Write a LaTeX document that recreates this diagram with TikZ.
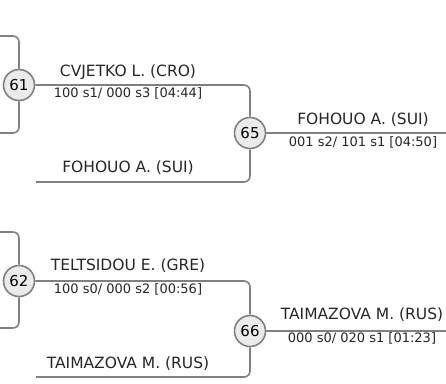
\documentclass[tikz,border=0pt]{standalone}
\usepackage{fontspec}
\setmainfont{DejaVu Sans}
\usetikzlibrary{positioning}

\begin{document}
\begin{tikzpicture}[x=1pt,y=-1pt,
  match/.style={circle,draw=gray,line width=1.6pt,fill=gray!16,minimum size=31pt,inner sep=0pt,font=\fontsize{15}{15}\selectfont},
  link/.style={draw=gray,line width=1.6pt,rounded corners=6pt},
  player/.style={font=\fontsize{15.5}{16}\selectfont,text=black!85},
  score/.style={font=\fontsize{13}{14}\selectfont,text=black!85}]
  \useasboundingbox (0,0) rectangle (446,383);
  \node[match] (m61) at (19,85) {61};
  \node[match] (m65) at (250,133) {65};
  \node[match] (m62) at (19,281) {62};
  \node[match] (m66) at (250,331) {66};
  \coordinate (t61) at (0,36);
  \coordinate (b61) at (0,133);
  \coordinate (t62) at (0,232);
  \coordinate (b62) at (0,328);
  \coordinate (f65) at (36,182);
  \coordinate (f66) at (36,377);
  \coordinate (e65) at (446,133);
  \coordinate (e66) at (446,331);
  \draw[link] (t61) -| (m61);
  \draw[link] (b61) -| (m61);
  \draw[link] (t62) -| (m62);
  \draw[link] (b62) -| (m62);
  \draw[link] (m61) -| (m65);
  \draw[link] (f65) -| (m65);
  \draw[link] (m62) -| (m66);
  \draw[link] (f66) -| (m66);
  \draw[link] (m65) -- (e65);
  \draw[link] (m66) -- (e66);
  \node[player] (n61) at (128,72) {CVJETKO L. (CRO)};
  \node[score] (s61) at (128,93) {100 s1/ 000 s3 [04:44]};
  \node[player] (n65b) at (128,168) {FOHOUO A. (SUI)};
  \node[player] (n65) at (363,120) {FOHOUO A. (SUI)};
  \node[score] (s65) at (363,142) {001 s2/ 101 s1 [04:50]};
  \node[player] (n62) at (128,266) {TELTSIDOU E. (GRE)};
  \node[score] (s62) at (128,289) {100 s0/ 000 s2 [00:56]};
  \node[player] (n66b) at (128,364) {TAIMAZOVA M. (RUS)};
  \node[player] (n66) at (362,315) {TAIMAZOVA M. (RUS)};
  \node[score] (s66) at (362,338) {000 s0/ 020 s1 [01:23]};
\end{tikzpicture}
\end{document}
